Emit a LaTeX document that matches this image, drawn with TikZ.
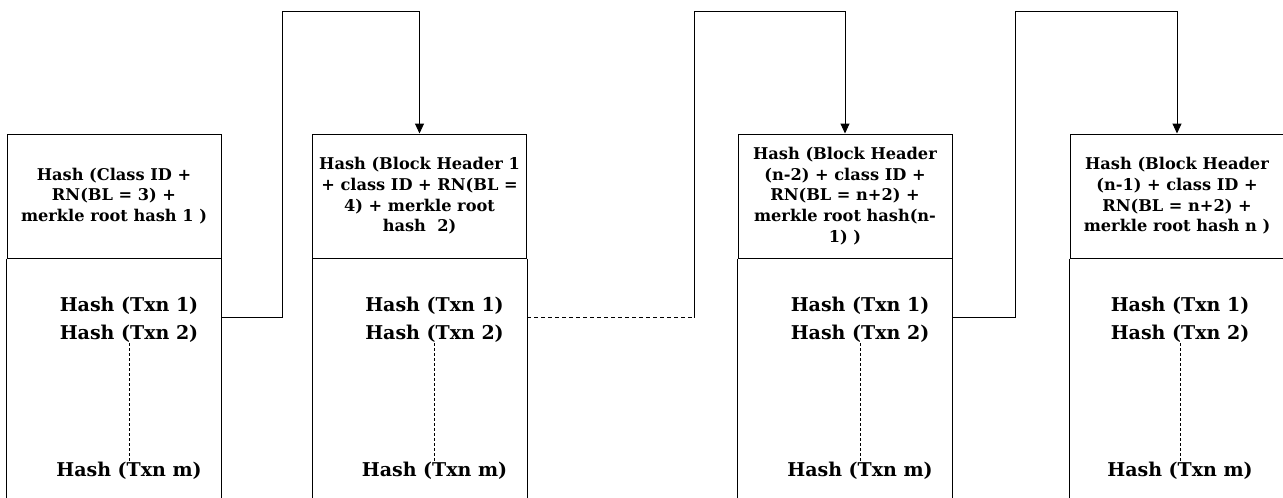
\documentclass[tikz,border=0pt]{standalone}
\usepackage{fontspec}
\setmainfont{DejaVu Serif}
\usetikzlibrary{calc, arrows.meta, positioning}

\begin{document}
\begin{tikzpicture}[x=1pt,y=-1pt,
        hdr/.style={draw, line width=1pt, minimum width=214pt, minimum height=124pt, align=center, inner sep=2pt, font=\bfseries\fontsize{16.2}{20.7}\selectfont},
        txn/.style={inner sep=1pt, font=\bfseries\fontsize{19}{22}\selectfont},
        side/.style={line width=1pt},
        dots/.style={line width=0.8pt, dash pattern=on 3pt off 2pt},
        link/.style={line width=1pt, -{Triangle[width=9pt,length=10pt]}}]
    \useasboundingbox (0,0) rectangle (1283,498);
    \node[hdr] (h1) at (114,196) {Hash (Class ID +\\RN(BL = 3) +\\merkle root hash 1 )};
    \node[hdr] (h2) at (419.5,196) {Hash (Block Header 1\\+ class ID + RN(BL =\\4) + merkle root\\hash~~2)};
    \node[hdr] (h3) at (845,196) {Hash (Block Header\\(n-2) + class ID +\\RN(BL = n+2) +\\merkle root hash(n-\\1) )};
    \node[hdr] (h4) at (1177,196) {Hash (Block Header\\(n-1) + class ID +\\RN(BL = n+2) +\\merkle root hash n )};
    \foreach \i/\dx in {1/15,2/15,3/15,4/3}{
        \draw[side] (h\i.south west) -- ++(0,240);
        \draw[side] (h\i.south east) -- ++(0,240);
        \node[txn] (ta\i) at ($(h\i.south)+(\dx,47)$) {Hash (Txn 1)};
        \node[txn] (tb\i) at ($(h\i.south)+(\dx,75)$) {Hash (Txn 2)};
        \node[txn] (tm\i) at ($(h\i.south)+(\dx,212)$) {Hash (Txn m)};
        \draw[dots] (tb\i.south) -- (tb\i.south |- tm\i.north);
    }
    \coordinate (o1) at ($(h1.south east)+(0,59)$);
    \coordinate (o2) at ($(h2.south east)+(0,59)$);
    \coordinate (o3) at ($(h3.south east)+(0,59)$);
    \coordinate (k2) at ($(o2)+(167,0)$);
    \draw[link] (o1) -- ++(61,0) |- ($(h2.north)+(0,-122)$) -- (h2.north);
    \draw[line width=0.8pt, dash pattern=on 4pt off 3pt] (o2) -- (k2);
    \draw[link] (k2) |- ($(h3.north)+(0,-122)$) -- (h3.north);
    \draw[link] (o3) -- ++(63,0) |- ($(h4.north)+(0,-122)$) -- (h4.north);
\end{tikzpicture}
\end{document}
